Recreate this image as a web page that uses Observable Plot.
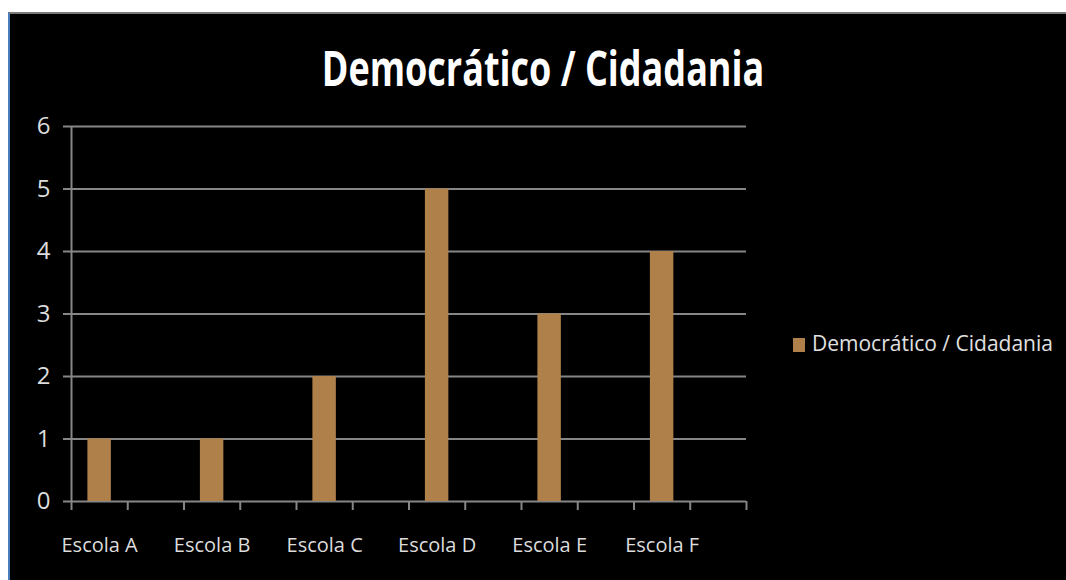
<!DOCTYPE html>
<html>
<head>
<meta charset="utf-8">
<script src="https://cdn.jsdelivr.net/npm/d3@7"></script>
<script src="https://cdn.jsdelivr.net/npm/@observablehq/plot@0.6"></script>
<style>
  html, body { margin: 0; padding: 0; background: #ffffff; width: 1066px; height: 580px; overflow: hidden; }
  #frame { position: absolute; left: 8px; top: 12px; width: 1058px; height: 568px; background: #000;
           border-left: 2px solid #4a7ebb; border-top: 2px solid #7a7a7a; box-sizing: border-box; }
  #title { position: absolute; left: 0; top: 44px; width: 1087px; text-align: center; line-height: 1;
           font-family: "Open Sans", sans-serif; font-weight: 700; font-size: 48px; color: #ffffff; white-space: nowrap; }
  #title span { display: inline-block; transform: scaleX(0.75); transform-origin: center; }
  #chart { position: absolute; left: 10px; top: 100px; }
  #legend { position: absolute; left: 793px; top: 329px; font-family: "Open Sans", sans-serif; font-size: 21px;
            color: #e0e0e0; white-space: nowrap; line-height: 28px; }
  #legend .sw { display: inline-block; width: 12px; height: 14px; background: #b0804a; margin-right: 7px; vertical-align: -1px; }
</style>
</head>
<body>
<div id="frame"></div>
<div id="title"><span></span></div>
<div id="chart"></div>
<div id="legend"><span class="sw"></span><span class="lt"></span></div>
<script>
const chartTitle = "Democrático / Cidadania";
const seriesName = "Democrático / Cidadania";
const categories = ["Escola A", "Escola B", "Escola C", "Escola D", "Escola E", "Escola F"];
const values = [1, 1, 2, 5, 3, 4];
const yTicks = [0, 1, 2, 3, 4, 5, 6];

// Excel layout: each category occupies two slots, the second one empty
const nSlots = categories.length * 2;
const data = categories.map((c, i) => ({category: c, value: values[i], slot: i * 2}));

document.querySelector("#title span").textContent = chartTitle;
document.querySelector("#legend .lt").textContent = seriesName;

const gridColor = "#868686";
const barColor = "#b0804a";

const plot = Plot.plot({
  width: 760,
  height: 470,
  marginLeft: 61,
  marginRight: 24,
  marginTop: 26,
  marginBottom: 69,
  style: {background: "transparent", color: "#dcdcdc", fontFamily: "'Open Sans', sans-serif", fontSize: "20px"},
  x: {domain: [0, nSlots], axis: null, label: null},
  y: {domain: [0, 6], axis: null, label: null},
  marks: [
    Plot.gridY(yTicks, {stroke: gridColor, strokeOpacity: 1, strokeWidth: 2}),
    Plot.ruleX([0], {stroke: gridColor, strokeWidth: 2}),
    Plot.axisY({ticks: yTicks, tickSize: 8, tickPadding: 13, stroke: gridColor, strokeWidth: 2, fontSize: 24,
                label: null, tickFormat: d => String(d)}),
    Plot.axisX({ticks: d3.range(nSlots + 1), tickSize: 9, stroke: gridColor, strokeWidth: 2, label: null, tickFormat: () => ""}),
    Plot.axisX({ticks: data.map(d => d.slot + 0.5), tickSize: 0, tickPadding: 36, label: null,
                tickFormat: v => categories[Math.round((v - 0.5) / 2)]}),
    Plot.rectY(data, {x: "slot", interval: 1, y: "value", fill: barColor, insetLeft: 16.4, insetRight: 16.4})
  ]
});
document.getElementById("chart").append(plot);
</script>
</body>
</html>
